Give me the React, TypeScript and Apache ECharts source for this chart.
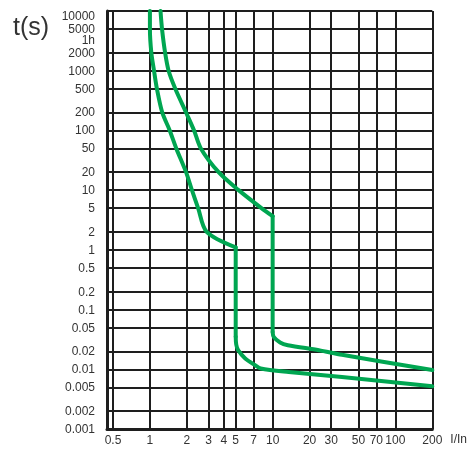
import React, { useEffect, useRef } from "react";
import * as echarts from "echarts";

// Axis tick values (I/In and seconds)
const xTicks = [0.5, 1, 2, 3, 4, 5, 7, 10, 20, 30, 50, 70, 100, 200];
const yTicks = [
  0.001, 0.002, 0.005, 0.01, 0.02, 0.05, 0.1, 0.2, 0.5, 1, 2, 5, 10, 20, 50,
  100, 200, 500, 1000, 2000, 5000, 10000,
];
const yLabelValues = [...yTicks, 3600];
const xMin = 0.447;
const xMax = 200;
const yMin = 0.001;
const yMax = 10000;

// Lower (left) tripping curve: thermal part, magnetic vertical, tail
const lowI = [
  1.0, 1.0, 1.027, 1.08, 1.14, 1.26, 1.45, 1.64, 1.97, 2.2, 2.47, 2.9, 5, 5,
  5.05, 5.23, 5.98, 7.2, 8.0, 13.5, 36.7, 200,
];
const lowT = [
  10000, 5000, 2000, 1000, 500, 200, 100, 50, 20, 10, 5, 2, 1.1, 0.035, 0.026,
  0.0209, 0.0152, 0.0117, 0.0103, 0.009, 0.0074, 0.0052,
];
const lowKnee = 12; // index of the thermal/magnetic corner
const lowBottom = 13; // index where the vertical part ends

// Upper (right) tripping curve
const highI = [
  1.22, 1.255, 1.33, 1.42, 1.61, 1.97, 2.29, 2.6, 3.63, 5.28, 8.1, 10, 10,
  10.2, 11.5, 13.3, 23.8, 36.7, 200,
];
const highT = [
  10000, 5000, 2000, 1000, 500, 200, 100, 50, 20, 10, 5, 3.66, 0.042, 0.0349,
  0.0281, 0.0253, 0.0209, 0.0175, 0.0097,
];
const highKnee = 11;
const highBottom = 12;

const FONT = "'Liberation Sans', Arial, sans-serif";
const GREEN = "#00a651";
const GRID = "#1e1e1e";

function nearest(list: number[], v: number) {
  let best = list[0];
  let d = Infinity;
  for (const c of list) {
    const dd = Math.abs(Math.log(c) - Math.log(v));
    if (dd < d) {
      d = dd;
      best = c;
    }
  }
  return best;
}

function curveSeries(I: number[], T: number[], knee: number, bottom: number) {
  const pts = I.map((v, i) => [v, T[i]]);
  const base = {
    type: "line",
    showSymbol: false,
    lineStyle: { color: GREEN, width: 4, join: "round", cap: "round" },
    z: 5,
  };
  return [
    { ...base, data: pts.slice(0, knee + 1), smooth: 0.3 },
    { ...base, data: pts.slice(knee, bottom + 1), smooth: false },
    { ...base, data: pts.slice(bottom), smooth: 0.3 },
  ];
}

export default function App() {
  const ref = useRef<HTMLDivElement>(null);
  useEffect(() => {
    if (!ref.current) return;
    const chart = echarts.init(ref.current, undefined, { renderer: "svg" });
    chart.setOption({
      animation: false,
      grid: { left: 107, right: 36, top: 9, bottom: 21, containLabel: false },
      graphic: [
        {
          type: "text",
          left: 13,
          top: 13,
          style: { text: "t(s)", fontSize: 25, fill: "#333", fontFamily: FONT },
        },
      ],
      xAxis: {
        type: "log",
        logBase: 10,
        min: xMin,
        max: xMax,
        name: "I/In",
        nameLocation: "end",
        nameGap: 18,
        nameTextStyle: {
          fontSize: 12,
          color: "#333",
          fontFamily: FONT,
          verticalAlign: "top",
          padding: [4, 0, 0, 0],
        },
        axisLine: { show: true, lineStyle: { color: GRID, width: 3 } },
        axisTick: { show: false, customValues: xTicks },
        axisLabel: {
          customValues: xTicks,
          fontSize: 12,
          color: "#333",
          fontFamily: FONT,
          margin: 5,
          formatter: (v: number) => String(nearest(xTicks, v)),
        },
        splitLine: { show: true, lineStyle: { color: GRID, width: 2 } },
      },
      yAxis: {
        type: "log",
        logBase: 10,
        min: yMin,
        max: yMax,
        axisLine: { show: true, lineStyle: { color: GRID, width: 3 } },
        axisTick: { show: false, customValues: yTicks },
        axisLabel: {
          customValues: yLabelValues,
          fontSize: 12,
          lineHeight: 11,
          color: "#333",
          fontFamily: FONT,
          margin: 12,
          formatter: (v: number) => {
            const n = nearest(yLabelValues, v);
            if (n === 3600) return "{h|1h}";
            if (n === 10000) return "{top|10000}";
            return String(n);
          },
          rich: {
            top: { padding: [10, 0, 0, 0], fontSize: 12, lineHeight: 11, color: "#333", fontFamily: FONT },
            h: { padding: [5, 0, 0, 0], fontSize: 12, lineHeight: 9, color: "#333", fontFamily: FONT },
          },
        },
        splitLine: { show: true, lineStyle: { color: GRID, width: 2 } },
      },
      series: [
        ...curveSeries(lowI, lowT, lowKnee, lowBottom),
        ...curveSeries(highI, highT, highKnee, highBottom),
      ],
    });
    return () => chart.dispose();
  }, []);
  return (
    <div
      ref={ref}
      style={{ position: "fixed", left: 0, top: 0, width: 470, height: 450 }}
    />
  );
}
